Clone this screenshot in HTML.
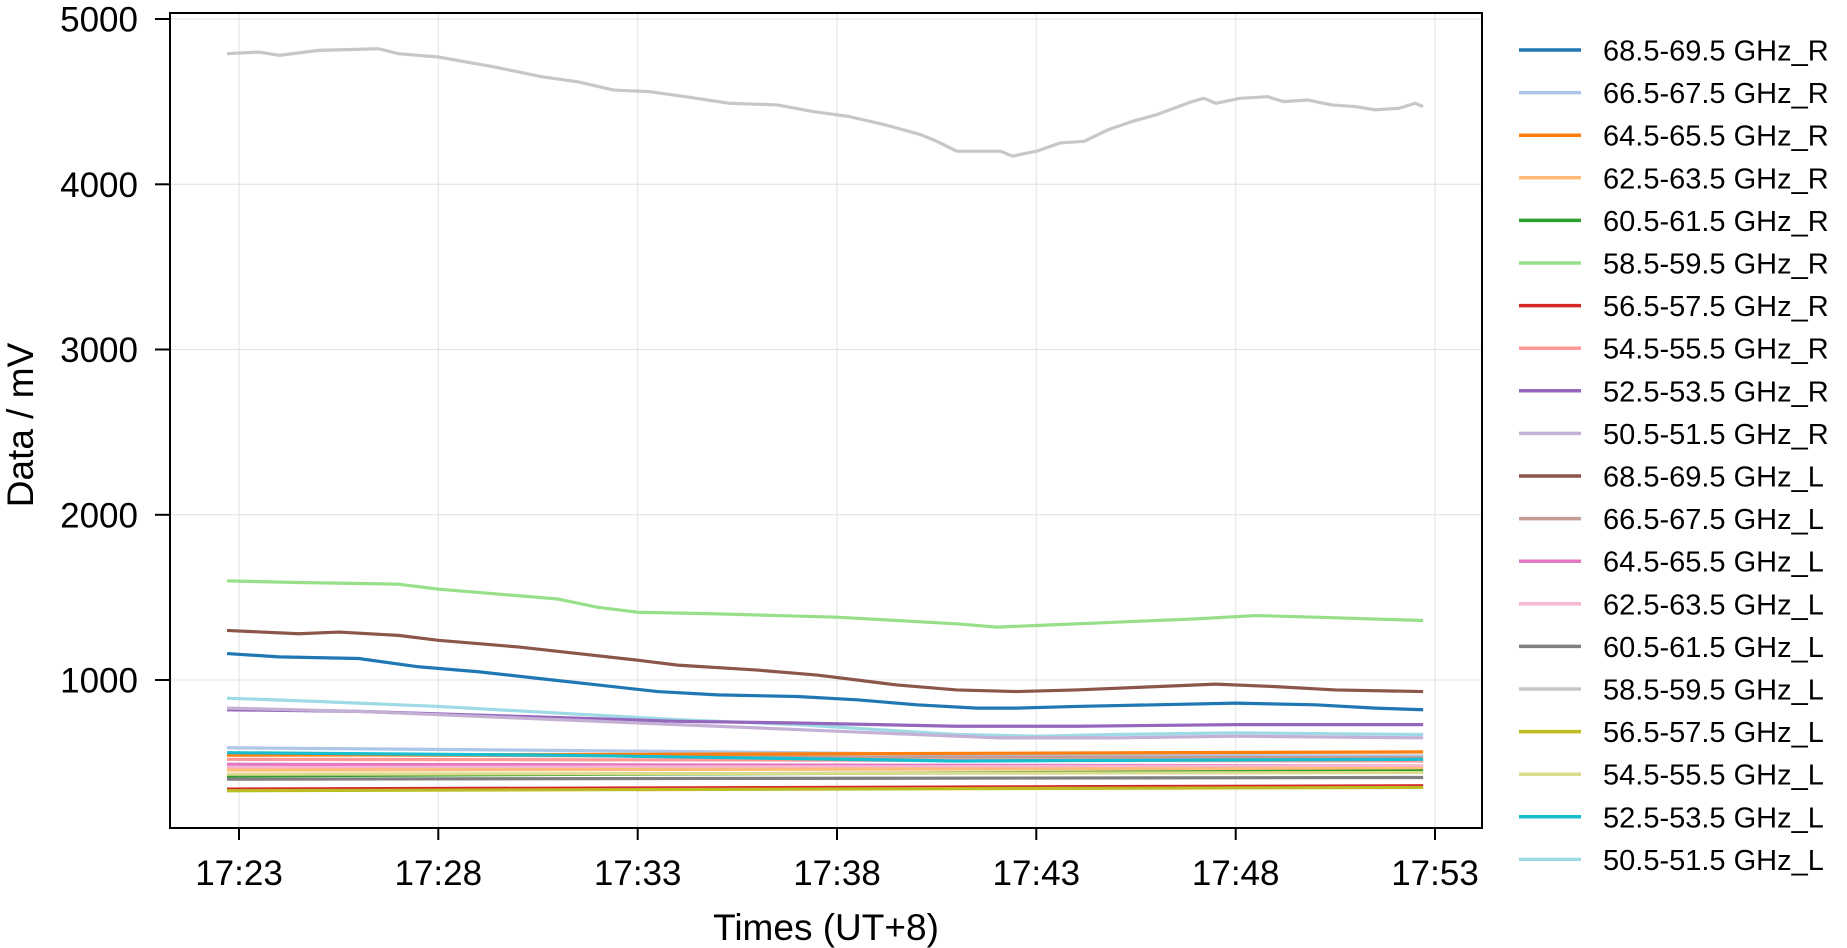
<!DOCTYPE html>
<html><head><meta charset="utf-8"><style>
html,body{margin:0;padding:0;background:#fff;width:1847px;height:948px;overflow:hidden}
svg text{font-family:"Liberation Sans",Arial,sans-serif;fill:#000}
</style></head><body>
<svg width="1847" height="948" viewBox="0 0 1847 948" xmlns="http://www.w3.org/2000/svg">
<g stroke="#e2e2e2" stroke-width="1">
<line x1="239" y1="13" x2="239" y2="828"/><line x1="438.3" y1="13" x2="438.3" y2="828"/><line x1="637.7" y1="13" x2="637.7" y2="828"/><line x1="837" y1="13" x2="837" y2="828"/><line x1="1036.3" y1="13" x2="1036.3" y2="828"/><line x1="1235.7" y1="13" x2="1235.7" y2="828"/><line x1="1435" y1="13" x2="1435" y2="828"/>
<line x1="170" y1="19" x2="1482" y2="19"/><line x1="170" y1="184.3" x2="1482" y2="184.3"/><line x1="170" y1="349.5" x2="1482" y2="349.5"/><line x1="170" y1="514.8" x2="1482" y2="514.8"/><line x1="170" y1="680" x2="1482" y2="680"/>
</g>
<g transform="translate(239,845.25) scale(39.87,-0.16525)" fill="none" stroke-width="3.2" stroke-linejoin="round">
<polyline vector-effect="non-scaling-stroke" stroke="#c7c7c7" points="-0.3,4790 0.5,4800 1,4780 2,4810 3.5,4820 4,4790 5,4770 6.4,4710 7.6,4650 8.5,4620 9.4,4570 10.3,4560 11.2,4530 12.3,4490 13.5,4480 14.4,4440 15.3,4410 16.2,4360 17.1,4300 17.5,4260 18,4200 19.1,4200 19.4,4170 20,4200 20.6,4250 21.2,4260 21.8,4330 22.4,4380 23,4420 23.9,4500 24.2,4520 24.5,4490 25.1,4520 25.8,4530 26.2,4500 26.8,4510 27.4,4480 28,4470 28.5,4450 29.1,4460 29.5,4490 29.7,4470"/>
<polyline vector-effect="non-scaling-stroke" stroke="#98df8a" points="-0.3,1600 1.5,1590 4,1580 5,1550 6.5,1520 8,1490 9,1440 10,1410 12,1400 13.5,1390 15,1380 16.5,1360 18,1340 19,1320 20,1330 22,1350 24,1370 25.5,1390 27,1380 29.7,1360"/>
<polyline vector-effect="non-scaling-stroke" stroke="#8c564b" points="-0.3,1300 1.5,1280 2.5,1290 4,1270 5,1240 7,1200 8.5,1160 10,1120 11,1090 13,1060 14.5,1030 15.5,1000 16.5,970 18,940 19.5,930 21,940 23,960 24.5,975 26,960 27.5,940 29.7,930"/>
<polyline vector-effect="non-scaling-stroke" stroke="#1f77b4" points="-0.3,1160 1,1140 3,1130 4.5,1080 6,1050 7.5,1010 9,970 10.5,930 12,910 14,900 15.5,880 17,850 18.5,830 19.5,830 21,840 23,850 25,860 27,850 28.5,830 29.7,820"/>
<polyline vector-effect="non-scaling-stroke" stroke="#9edae5" points="-0.3,890 2,870 5,840 8,800 11,760 14,730 16,700 18,670 20,660 22,670 25,680 29.7,670"/>
<polyline vector-effect="non-scaling-stroke" stroke="#9467bd" points="-0.3,820 3,810 7,780 11,750 14,740 18,720 21,720 25,730 29.7,730"/>
<polyline vector-effect="non-scaling-stroke" stroke="#c5b0d5" points="-0.3,830 3,810 7,770 11,730 14,700 17,670 19,650 22,650 25,660 29.7,650"/>
<polyline vector-effect="non-scaling-stroke" stroke="#aec7e8" points="-0.3,590 10,570 20,545 29.7,540"/>
<polyline vector-effect="non-scaling-stroke" stroke="#c49c94" points="-0.3,550 15,535 29.7,530"/>
<polyline vector-effect="non-scaling-stroke" stroke="#ff9896" points="-0.3,520 15,515 29.7,510"/>
<polyline vector-effect="non-scaling-stroke" stroke="#ff7f0e" points="-0.3,545 10,550 29.7,565"/>
<polyline vector-effect="non-scaling-stroke" stroke="#17becf" points="-0.3,560 8,545 18,510 29.7,520"/>
<polyline vector-effect="non-scaling-stroke" stroke="#e377c2" points="-0.3,490 15,485 29.7,480"/>
<polyline vector-effect="non-scaling-stroke" stroke="#f7b6d2" points="-0.3,470 29.7,480"/>
<polyline vector-effect="non-scaling-stroke" stroke="#ffbb78" points="-0.3,455 29.7,465"/>
<polyline vector-effect="non-scaling-stroke" stroke="#2ca02c" points="-0.3,420 15,435 29.7,450"/>
<polyline vector-effect="non-scaling-stroke" stroke="#dbdb8d" points="-0.3,430 29.7,440"/>
<polyline vector-effect="non-scaling-stroke" stroke="#7f7f7f" points="-0.3,400 29.7,410"/>
<polyline vector-effect="non-scaling-stroke" stroke="#d62728" points="-0.3,340 29.7,360"/>
<polyline vector-effect="non-scaling-stroke" stroke="#bcbd22" points="-0.3,330 29.7,350"/>
</g>
<rect x="170" y="13" width="1312" height="815" fill="none" stroke="#000" stroke-width="2"/>
<g stroke="#000" stroke-width="2">
<line x1="155" y1="19" x2="170" y2="19"/><line x1="155" y1="184.3" x2="170" y2="184.3"/><line x1="155" y1="349.5" x2="170" y2="349.5"/><line x1="155" y1="514.8" x2="170" y2="514.8"/><line x1="155" y1="680" x2="170" y2="680"/>
<line x1="239" y1="828" x2="239" y2="840"/><line x1="438.3" y1="828" x2="438.3" y2="840"/><line x1="637.7" y1="828" x2="637.7" y2="840"/><line x1="837" y1="828" x2="837" y2="840"/><line x1="1036.3" y1="828" x2="1036.3" y2="840"/><line x1="1235.7" y1="828" x2="1235.7" y2="840"/><line x1="1435" y1="828" x2="1435" y2="840"/>
</g>
<g font-size="35" text-anchor="end">
<text x="138" y="31.5">5000</text><text x="138" y="196.8">4000</text><text x="138" y="362">3000</text><text x="138" y="527.3">2000</text><text x="138" y="692.5">1000</text>
</g>
<g font-size="35" text-anchor="middle">
<text x="239" y="885">17:23</text><text x="438.3" y="885">17:28</text><text x="637.7" y="885">17:33</text><text x="837" y="885">17:38</text><text x="1036.3" y="885">17:43</text><text x="1235.7" y="885">17:48</text><text x="1435" y="885">17:53</text>
<text x="826" y="940" font-size="37">Times (UT+8)</text>
<text transform="translate(33,425) rotate(-90)" font-size="37">Data / mV</text>
</g>
<g stroke-width="3.5">
<line x1="1519" y1="50" x2="1581" y2="50" stroke="#1f77b4"/>
<line x1="1519" y1="92.6" x2="1581" y2="92.6" stroke="#aec7e8"/>
<line x1="1519" y1="135.2" x2="1581" y2="135.2" stroke="#ff7f0e"/>
<line x1="1519" y1="177.8" x2="1581" y2="177.8" stroke="#ffbb78"/>
<line x1="1519" y1="220.4" x2="1581" y2="220.4" stroke="#2ca02c"/>
<line x1="1519" y1="263" x2="1581" y2="263" stroke="#98df8a"/>
<line x1="1519" y1="305.6" x2="1581" y2="305.6" stroke="#d62728"/>
<line x1="1519" y1="348.2" x2="1581" y2="348.2" stroke="#ff9896"/>
<line x1="1519" y1="390.8" x2="1581" y2="390.8" stroke="#9467bd"/>
<line x1="1519" y1="433.4" x2="1581" y2="433.4" stroke="#c5b0d5"/>
<line x1="1519" y1="476" x2="1581" y2="476" stroke="#8c564b"/>
<line x1="1519" y1="518.6" x2="1581" y2="518.6" stroke="#c49c94"/>
<line x1="1519" y1="561.2" x2="1581" y2="561.2" stroke="#e377c2"/>
<line x1="1519" y1="603.8" x2="1581" y2="603.8" stroke="#f7b6d2"/>
<line x1="1519" y1="646.4" x2="1581" y2="646.4" stroke="#7f7f7f"/>
<line x1="1519" y1="689" x2="1581" y2="689" stroke="#c7c7c7"/>
<line x1="1519" y1="731.6" x2="1581" y2="731.6" stroke="#bcbd22"/>
<line x1="1519" y1="774.2" x2="1581" y2="774.2" stroke="#dbdb8d"/>
<line x1="1519" y1="816.8" x2="1581" y2="816.8" stroke="#17becf"/>
<line x1="1519" y1="859.4" x2="1581" y2="859.4" stroke="#9edae5"/>
</g>
<g font-size="29">
<text x="1603" y="60.5">68.5-69.5 GHz_R</text>
<text x="1603" y="103.1">66.5-67.5 GHz_R</text>
<text x="1603" y="145.7">64.5-65.5 GHz_R</text>
<text x="1603" y="188.3">62.5-63.5 GHz_R</text>
<text x="1603" y="230.9">60.5-61.5 GHz_R</text>
<text x="1603" y="273.5">58.5-59.5 GHz_R</text>
<text x="1603" y="316.1">56.5-57.5 GHz_R</text>
<text x="1603" y="358.7">54.5-55.5 GHz_R</text>
<text x="1603" y="401.3">52.5-53.5 GHz_R</text>
<text x="1603" y="443.9">50.5-51.5 GHz_R</text>
<text x="1603" y="486.5">68.5-69.5 GHz_L</text>
<text x="1603" y="529.1">66.5-67.5 GHz_L</text>
<text x="1603" y="571.7">64.5-65.5 GHz_L</text>
<text x="1603" y="614.3">62.5-63.5 GHz_L</text>
<text x="1603" y="656.9">60.5-61.5 GHz_L</text>
<text x="1603" y="699.5">58.5-59.5 GHz_L</text>
<text x="1603" y="742.1">56.5-57.5 GHz_L</text>
<text x="1603" y="784.7">54.5-55.5 GHz_L</text>
<text x="1603" y="827.3">52.5-53.5 GHz_L</text>
<text x="1603" y="869.9">50.5-51.5 GHz_L</text>
</g>
</svg>
</body></html>
